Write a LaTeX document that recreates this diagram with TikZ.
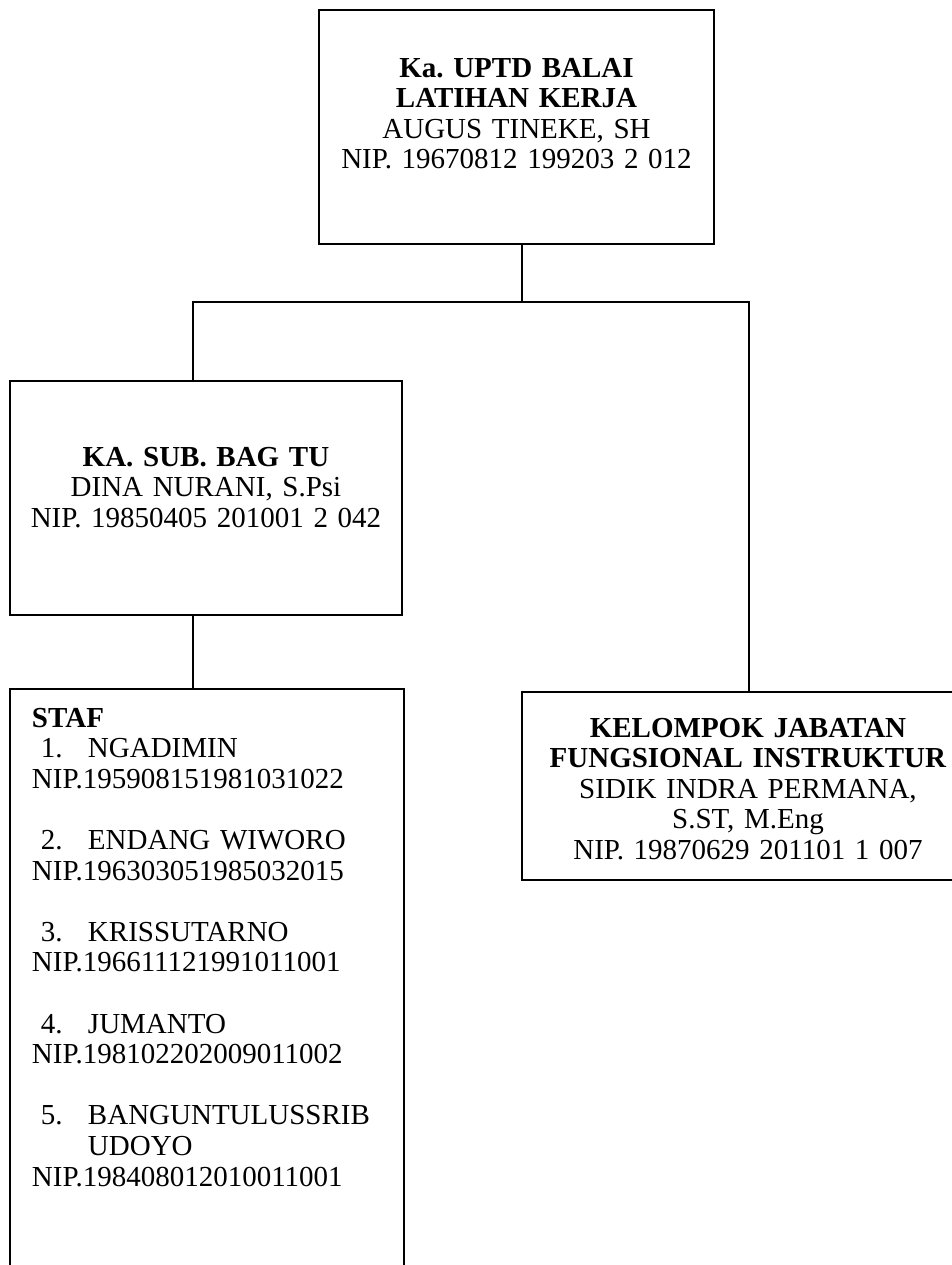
\documentclass[tikz,border=0pt]{standalone}
\usepackage{fontspec}
\setmainfont{Liberation Serif}
\usepackage{tikz}
\frenchspacing
\tikzset{
  kotak/.style={
    draw, line width=1.2pt, inner sep=0pt, outer sep=0pt,
    anchor=north west, align=center,
    font=\fontsize{14.5}{15.3}\selectfont
  }}
\tikzset{garis/.style={line width=1.2pt}}
\newcommand{\butir}[2]{\hspace*{4.5pt}\makebox[23.5pt][l]{#1}#2}

\begin{document}
\begin{tikzpicture}[x=0.5pt,y=-0.5pt]
	\useasboundingbox (0,0) rectangle (952,1265);
	\clip (0,0) rectangle (952,1265);
	% kotak-kotak
	\node[kotak,text width=197.5pt,text height=33.5pt,text depth=83.5pt](Ka) at (319,10)
		{\textbf{Ka. UPTD BALAI}\\ \textbf{LATIHAN KERJA}\\ AUGUS TINEKE, SH\\ NIP. 19670812 199203 2 012};
	\node[kotak,text width=196pt,text height=42.5pt,text depth=74.5pt](TU) at (10,381)
		{\textbf{KA. SUB. BAG TU}\\ DINA NURANI, S.Psi\\ NIP. 19850405 201001 2 042};
	\node[kotak,align=left,inner xsep=11pt,text width=175pt,text height=19pt,text depth=290pt](Staf) at (10,689)
		{\textbf{STAF}\\
		\butir{1.}{NGADIMIN}\\ NIP.195908151981031022\\[15.3pt]
		\butir{2.}{ENDANG WIWORO}\\ NIP.196303051985032015\\[15.3pt]
		\butir{3.}{KRISSUTARNO}\\ NIP.196611121991011001\\[15.3pt]
		\butir{4.}{JUMANTO}\\ NIP.198102202009011002\\[15.3pt]
		\butir{5.}{BANGUNTULUSSRIB}\\ \hspace*{28pt}UDOYO\\ NIP.198408012010011001};
	\node[kotak,text width=226pt,text height=22.5pt,text depth=71.5pt](JF) at (522,692)
		{\textbf{KELOMPOK JABATAN}\\ \textbf{FUNGSIONAL INSTRUKTUR}\\ SIDIK INDRA PERMANA,\\ S.ST, M.Eng\\ NIP. 19870629 201101 1 007};
	% garis penghubung
	\coordinate (cabang) at (522,302);
	\coordinate (kiri) at (193,302);
	\coordinate (kanan) at (749,302);
	\draw[garis] (Ka.south -| cabang) -- (cabang);
	\draw[garis] (TU.north -| kiri) -- (kiri) -- (kanan) -- (JF.north -| kanan);
	\draw[garis] (TU.south -| kiri) -- (Staf.north -| kiri);
\end{tikzpicture}
\end{document}
